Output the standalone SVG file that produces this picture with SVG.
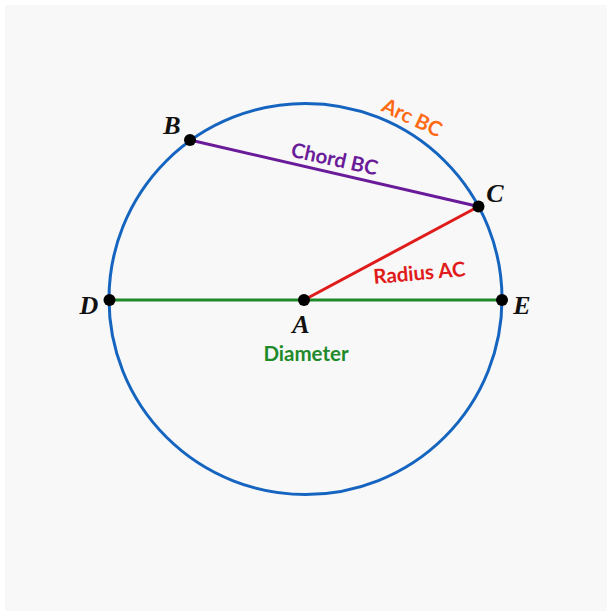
<svg xmlns="http://www.w3.org/2000/svg" width="607" height="611" viewBox="0 0 607 611">
<style>
.pt{fill:#000}
.lbl{font-family:"Liberation Serif","DejaVu Serif",serif;font-style:italic;font-weight:bold;font-size:26px;fill:#111;text-anchor:middle}
.tag{font-family:Lato,"Open Sans","Liberation Sans",sans-serif;font-weight:bold;font-size:20.5px;text-anchor:middle}
</style>
<rect width="607" height="611" fill="#ffffff"/>
<rect x="5" y="5" width="602" height="606" fill="#f8f8f8"/>
<g id="circle">
<ellipse cx="305.5" cy="299" rx="196.5" ry="195.5" fill="none" stroke="#1565c0" stroke-width="3"/>
</g>
<g id="connectors">
<line x1="190" y1="140" x2="478.5" y2="206.5" stroke="#6a1b9a" stroke-width="3"/>
<line x1="304" y1="300" x2="478.5" y2="206.5" stroke="#e01b1b" stroke-width="3"/>
<line x1="109.5" y1="300" x2="502" y2="300" stroke="#1e8a2a" stroke-width="3"/>
</g>
<g id="node-B"><circle class="pt" cx="190" cy="140" r="6"/><text class="lbl" x="172" y="134">B</text></g>
<g id="node-C"><circle class="pt" cx="478.5" cy="206.5" r="6"/><text class="lbl" x="495" y="202">C</text></g>
<g id="node-D"><circle class="pt" cx="109.5" cy="300" r="6"/><text class="lbl" x="89" y="314">D</text></g>
<g id="node-E"><circle class="pt" cx="502" cy="300" r="6"/><text class="lbl" x="522" y="314">E</text></g>
<g id="node-A"><circle class="pt" cx="304" cy="300" r="6"/><text class="lbl" x="301" y="333">A</text></g>
<g id="labels">
<text class="tag" fill="#ff6a13" transform="translate(409,124) rotate(25)">Arc BC</text>
<text class="tag" fill="#6a1b9a" transform="translate(333,166) rotate(12.5)">Chord BC</text>
<text class="tag" fill="#e01b1b" transform="translate(420,280) rotate(-5)">Radius AC</text>
<text class="tag" fill="#1e8a2a" x="306" y="361">Diameter</text>
</g>
</svg>
